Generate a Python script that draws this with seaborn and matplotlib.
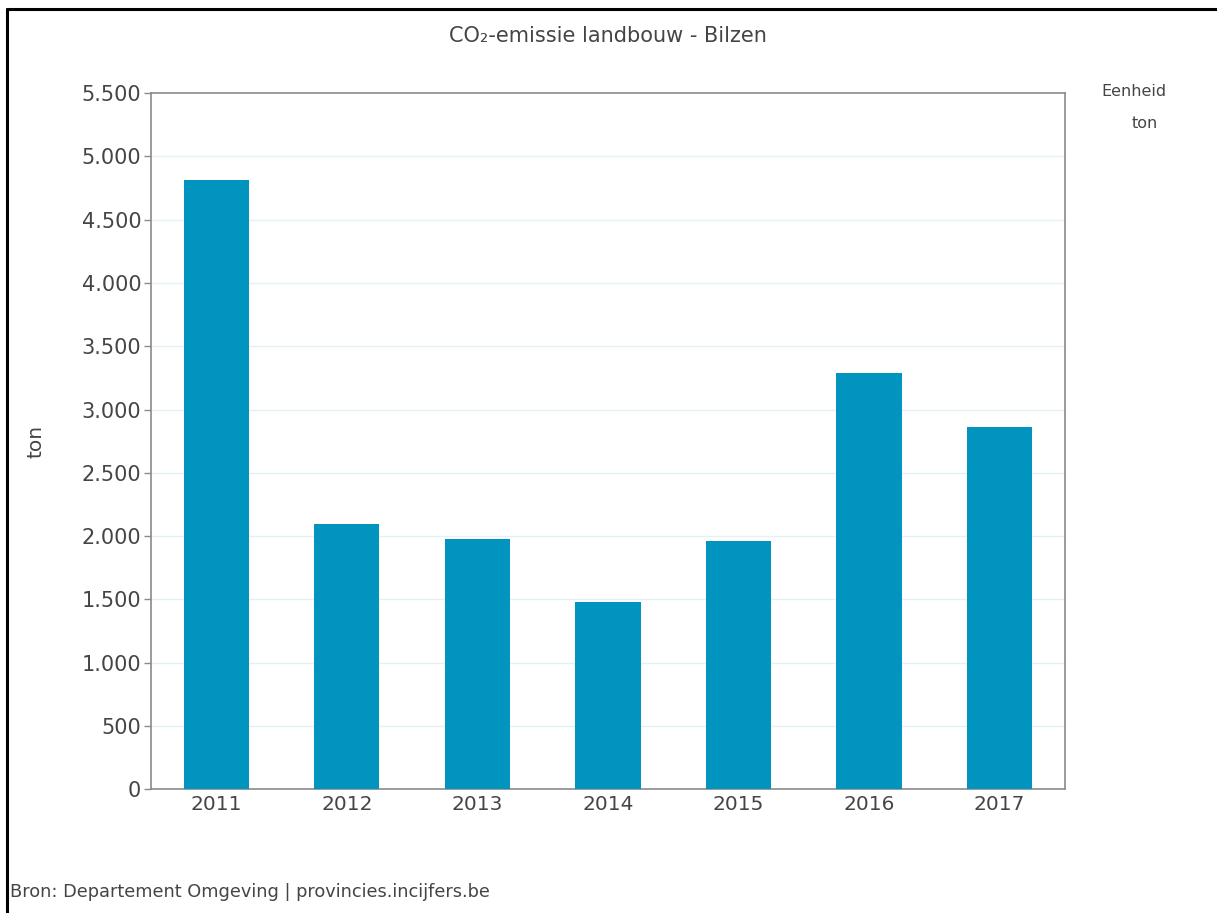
#CO2-emissie landbouw - Bilzen, bar chart
import pandas as pd
import matplotlib
matplotlib.use('Agg')
import matplotlib.pyplot as plt
from matplotlib.ticker import FuncFormatter
import seaborn as sns

#values
years = ['2011', '2012', '2013', '2014', '2015', '2016', '2017']
emissie = [4815, 2095, 1975, 1480, 1960, 3290, 2860]
y_ticks = [0, 500, 1000, 1500, 2000, 2500, 3000, 3500, 4000, 4500, 5000, 5500]

df = pd.DataFrame({'Jaar': years, 'ton': emissie})

sns.set_style('white')
plt.rcParams['font.family'] = ['DejaVu Sans']
txt = '#454545'
bar_col = '#0094BF'
axis_col = '#8a8a8a'

fig = plt.figure(figsize=(12.17, 9.13), dpi=100)
ax = fig.add_axes([0.124, 0.1355, 0.751, 0.7625])

sns.barplot(data=df, x='Jaar', y='ton', color=bar_col, saturation=1,
            width=0.5, linewidth=0, ax=ax, zorder=3)

ax.set_ylim(0, 5500)
ax.set_xlim(-0.5, len(years) - 0.5)
ax.set_yticks(y_ticks)
ax.yaxis.set_major_formatter(FuncFormatter(lambda v, p: f'{int(v):,}'.replace(',', '.')))
for t in y_ticks[1:-1]:
    ax.axhline(t, color='#e3f1f5', lw=1, zorder=1)

for s in ax.spines.values():
    s.set_color(axis_col)
    s.set_linewidth(1.2)

ax.tick_params(axis='y', labelsize=15, colors=txt, length=5, width=1,
               color=axis_col, pad=2, left=True)
ax.tick_params(axis='x', labelsize=14.5, colors=txt, length=0, pad=4)
ax.set_xlabel('')
ax.set_ylabel('ton', fontsize=14.5, color=txt, labelpad=26)

ax.set_title('CO\u2082-emissie landbouw - Bilzen', fontsize=15, color=txt, pad=37)

#unit box at the right
fig.text(1134 / 1217, 1 - 92 / 913, 'Eenheid', fontsize=11.5, color=txt,
         ha='center', va='center')
fig.text(1145 / 1217, 1 - 124 / 913, 'ton', fontsize=11.5, color=txt,
         ha='center', va='center')

#source line
fig.text(10 / 1217, 1 - 892 / 913, 'Bron: Departement Omgeving | provincies.incijfers.be',
         fontsize=12.8, color=txt, ha='left', va='center')

#black frame on the left and top of the screenshot
fig.add_artist(plt.Line2D([7 / 1217, 7 / 1217], [0, 1 - 9 / 913],
                          transform=fig.transFigure, color='black', lw=2.2))
fig.add_artist(plt.Line2D([7 / 1217, 1], [1 - 9 / 913, 1 - 9 / 913],
                          transform=fig.transFigure, color='black', lw=2.2))

fig.savefig('out.png', dpi=100)
